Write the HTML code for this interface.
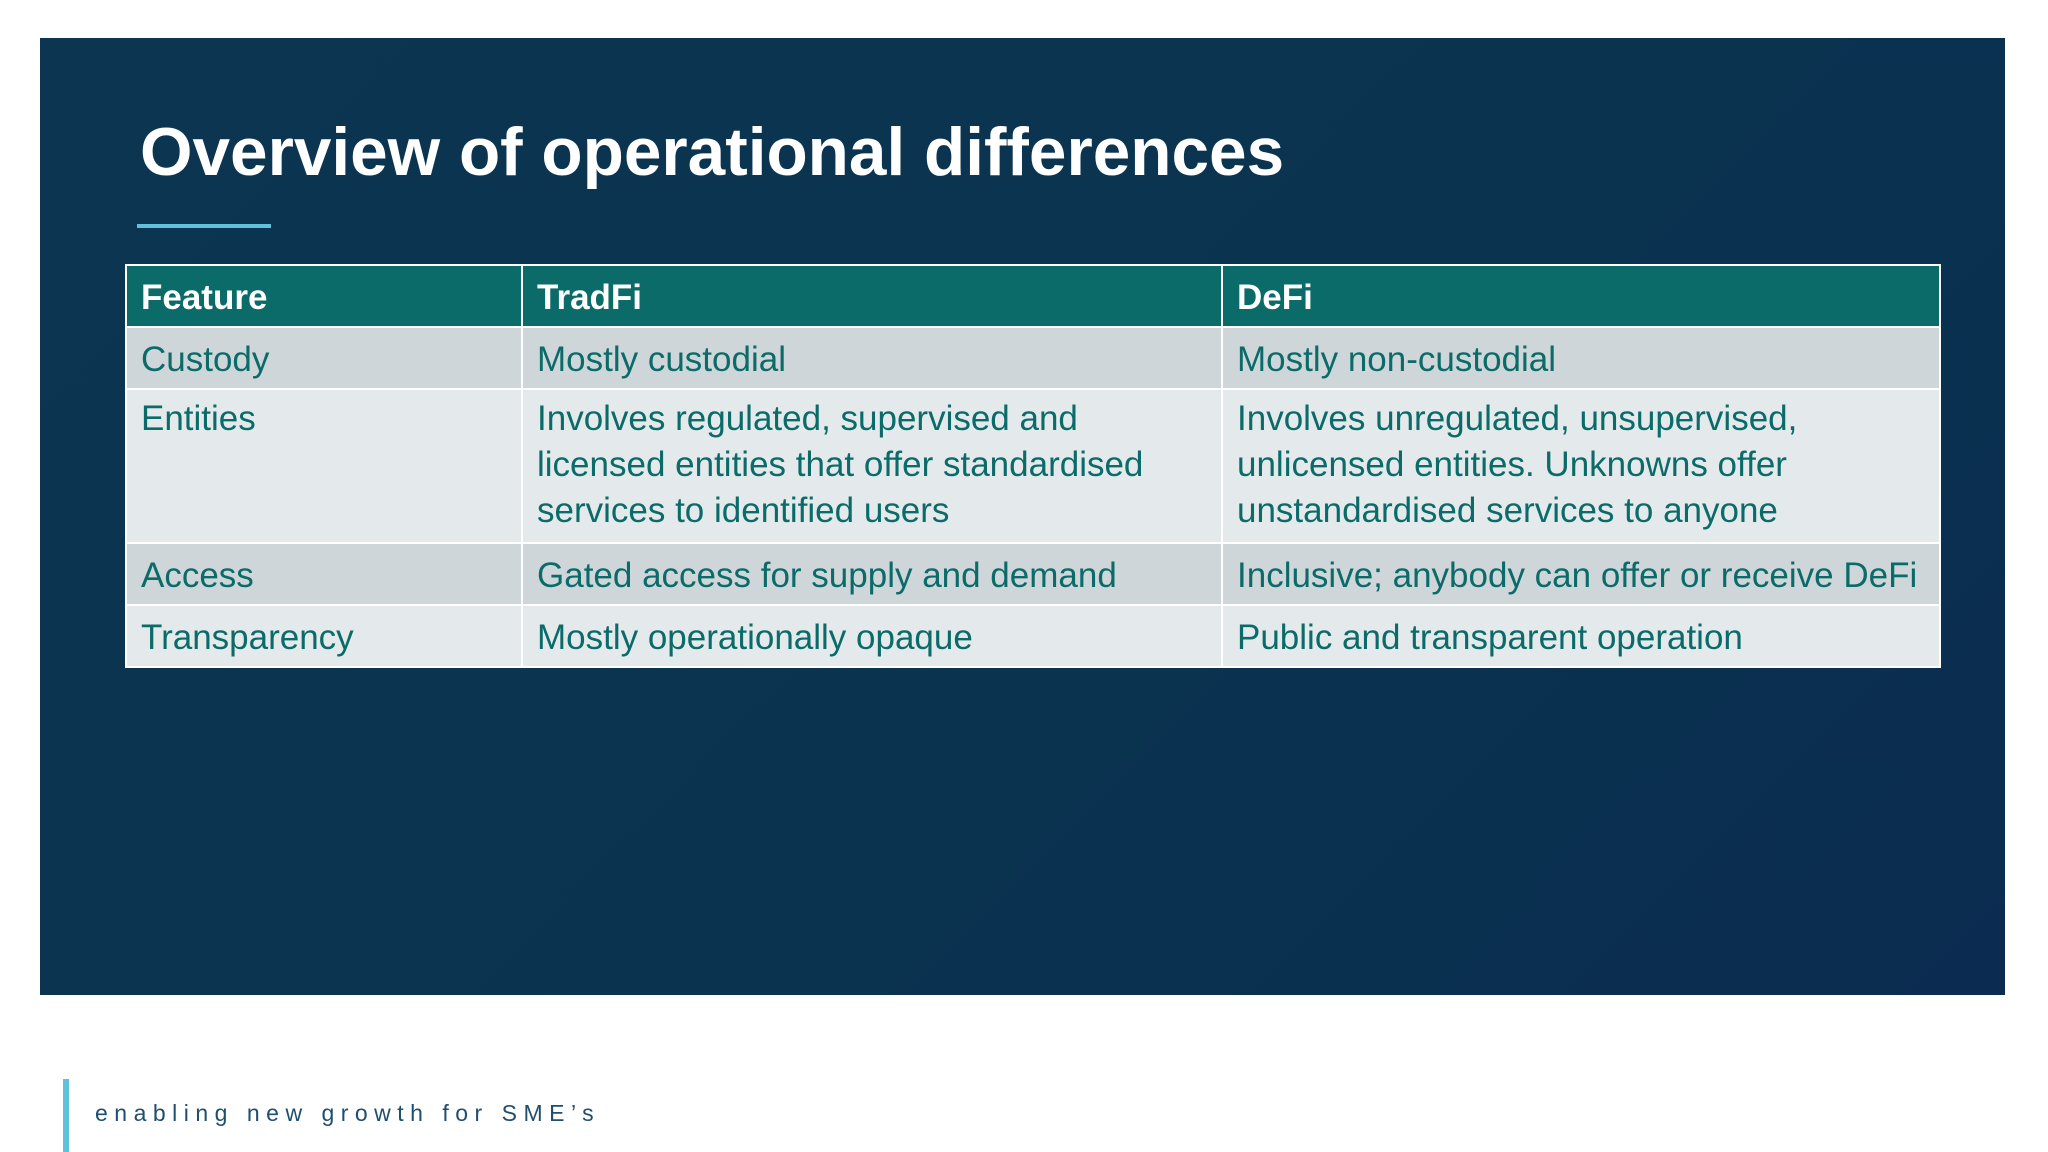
<!DOCTYPE html>
<html><head><meta charset="utf-8"><style>
html,body{margin:0;padding:0;width:2048px;height:1152px;background:#fff;overflow:hidden;font-family:"Liberation Sans",sans-serif}
#panel{position:absolute;left:40px;top:38px;width:1965px;height:957px;background:linear-gradient(135deg,#0b3550 0%,#0a3350 60%,#0b2c50 100%)}
#title{position:absolute;left:140px;top:114px;font-size:67.5px;font-weight:bold;color:#fff;white-space:nowrap}
#uline{position:absolute;left:137px;top:224px;width:134px;height:4px;background:#5fc1dc}
table{position:absolute;left:125px;top:264px;width:1814px;border-collapse:collapse;table-layout:fixed}
td{border:2px solid #fff;padding:0 14px;color:#0b6b68;font-size:35px;line-height:46px;white-space:nowrap;vertical-align:top;letter-spacing:0}
tr.h td{background:#0b6b68;color:#fff;font-weight:bold;height:56px;vertical-align:middle;padding-top:4px}
tr.a td{background:#cfd6d9}
tr.b td{background:#e4e9eb}
tr.s td{height:56px;vertical-align:middle;padding-top:4px}
#fbar{position:absolute;left:63px;top:1079px;width:6px;height:73px;background:#5fc1dc}
#ftext{position:absolute;left:95px;top:1100px;font-size:23px;color:#1f4e6e;letter-spacing:6.5px;white-space:nowrap}
</style></head><body>
<div id="panel"></div>
<div id="title">Overview of operational differences</div>
<div id="uline"></div>
<table>
<colgroup><col style="width:396px"><col style="width:700px"><col style="width:718px"></colgroup>
<tr class="h"><td>Feature</td><td>TradFi</td><td>DeFi</td></tr>
<tr class="a s"><td>Custody</td><td>Mostly custodial</td><td>Mostly non-custodial</td></tr>
<tr class="b"><td style="padding-top:6px;height:146px">Entities</td><td style="padding-top:6px">Involves regulated, supervised and<br>licensed entities that offer standardised<br>services to identified users</td><td style="padding-top:6px">Involves unregulated, unsupervised,<br>unlicensed entities. Unknowns offer<br>unstandardised services to anyone</td></tr>
<tr class="a s"><td>Access</td><td>Gated access for supply and demand</td><td>Inclusive; anybody can offer or receive DeFi</td></tr>
<tr class="b s"><td>Transparency</td><td>Mostly operationally opaque</td><td>Public and transparent operation</td></tr>
</table>
<div id="fbar"></div>
<div id="ftext">enabling new growth for SME’s</div>
</body></html>
